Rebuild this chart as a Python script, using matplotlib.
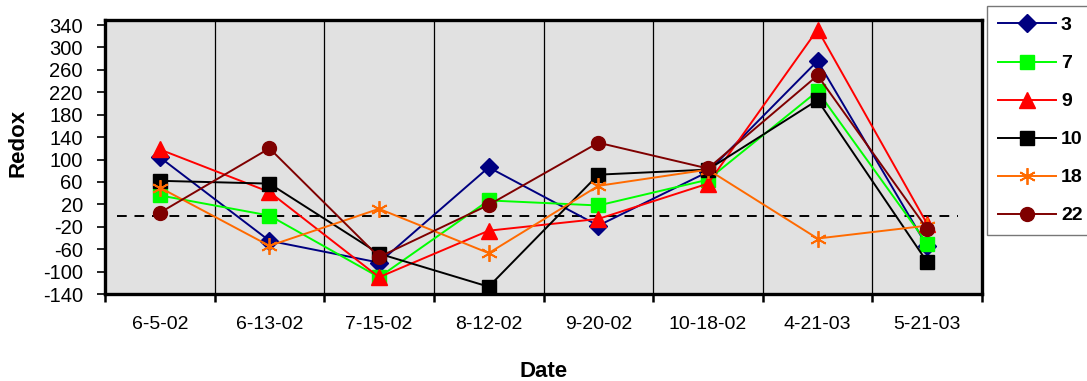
import matplotlib
matplotlib.use("Agg")
import matplotlib.pyplot as plt
import numpy as np

dates = ['6-5-02', '6-13-02', '7-15-02', '8-12-02', '9-20-02', '10-18-02', '4-21-03', '5-21-03']
s3 = [104, -45, -84, 86, -18, 78, 276, -55]
s7 = [36, 0, -110, 27, 18, 64, 222, -50]
s9 = [118, 42, -110, -27, -6, 57, 332, -15]
s10 = [62, 57, -68, -127, 73, 82, 206, -83]
s18 = [50, -54, 12, -67, 53, 82, -41, -18]
s22 = [5, 120, -74, 19, 130, 84, 250, -24]
labels = ['3', '7', '9', '10', '18', '22']
yticks = list(range(-140, 341, 40))

plt.rcParams['font.family'] = ['Liberation Sans', 'DejaVu Sans']

fig = plt.figure(figsize=(10.87, 3.81), dpi=100)
ax = fig.add_axes([105/1087, 1-294/381, (982-105)/1087, (294-20)/381])
ax.set_facecolor('#E1E1E1')

x = np.arange(len(dates))
styles = [
    dict(color='#000080', marker='D', ms=9),
    dict(color='#00FF00', marker='s', ms=9.5),
    dict(color='#FF0000', marker='^', ms=11),
    dict(color='#000000', marker='s', ms=9.5),
    dict(color='#FF6A00', marker=(6, 2, 0), ms=12, mew=1.3),
    dict(color='#7F0000', marker='o', ms=10),
]
series = [s3, s7, s9, s10, s18, s22]
for s, lab, st in zip(series, labels, styles):
    st = dict(st)
    c = st.pop('color')
    ax.plot(x, s, color=c, lw=1.4, mfc=c, mec=c, label=lab, zorder=3, **st)

ax.axhline(0, xmin=0.014, xmax=0.973, color='black', lw=1.4, ls=(0, (5, 4)), zorder=2)

for b in np.arange(0.5, len(dates) - 1, 1):
    ax.axvline(b, color='black', lw=0.9, zorder=1)

ax.set_xlim(-0.5, len(dates) - 0.5)
ax.set_ylim(-140, 349)
ax.set_yticks(yticks)
ax.set_yticklabels([str(v) for v in yticks], fontsize=14.5)
ax.set_xticks(np.arange(-0.5, len(dates), 1))
ax.set_xticklabels([])
ax.set_xticks(x, minor=True)
ax.set_xticklabels(dates, minor=True, fontsize=14)
ax.tick_params(axis='x', which='major', direction='out', length=6, width=1.8)
ax.tick_params(axis='x', which='minor', length=0, pad=16)
ax.tick_params(axis='y', direction='out', length=6, width=1.2, pad=10)
for sp in ax.spines.values():
    sp.set_linewidth(2.4)

ax.set_ylabel('Redox', fontsize=16, fontweight='bold')
ax.yaxis.set_label_coords(-(105 - 29) / 877, 0.55)
ax.set_xlabel('Date', fontsize=16, fontweight='bold', labelpad=20)

leg = fig.legend(loc='upper left', bbox_to_anchor=(987/1087, 1-6/381),
                 prop=dict(weight='bold', size=14), frameon=True, fancybox=False,
                 handlelength=3.0, labelspacing=1.05, borderpad=0.55, handletextpad=0.25,
                 borderaxespad=0)
leg.get_frame().set_edgecolor('#555555')
leg.get_frame().set_linewidth(1.0)

fig.savefig('out.png', dpi=100)
